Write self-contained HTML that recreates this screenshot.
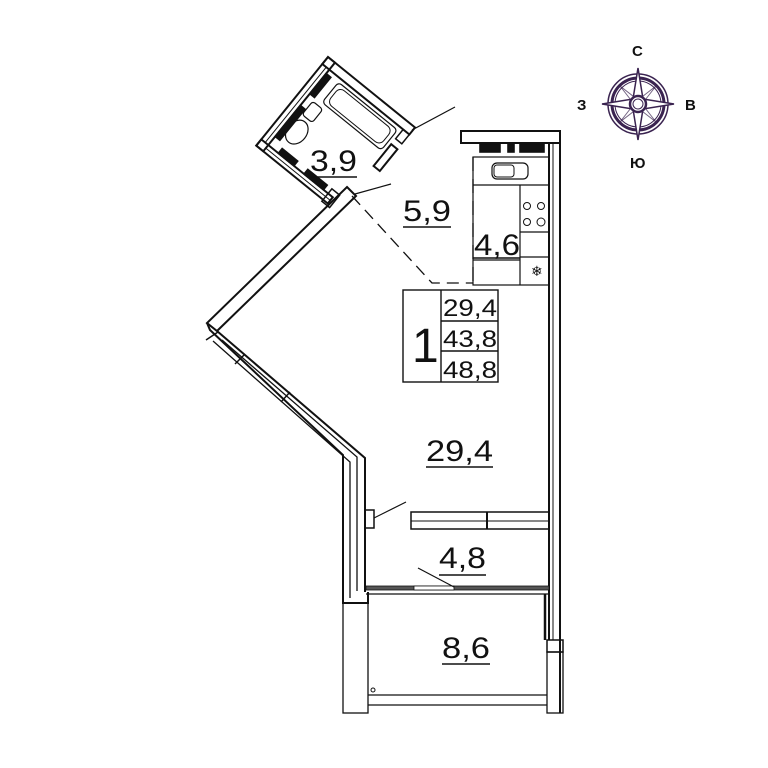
<!DOCTYPE html>
<html><head><style>html,body{margin:0;padding:0;background:#fff}svg{display:block}
text{font-family:"Liberation Sans",sans-serif;fill:#111}</style></head>
<body>
<svg width="768" height="768" viewBox="0 0 768 768" xmlns="http://www.w3.org/2000/svg">
<g fill="none" stroke="#111" stroke-width="1.6">
<!-- bathroom in local coords -->
<g transform="translate(328,57) rotate(39)">
<rect x="0" y="0" width="112" height="9" stroke-width="2"/>
<rect x="0" y="0" width="9" height="114" stroke-width="2"/>
<rect x="0" y="106" width="92" height="8" stroke-width="2"/>
<line x1="5" y1="9" x2="5" y2="106" stroke-width="1"/>
<line x1="9" y1="110" x2="92" y2="110" stroke-width="1"/>
<rect x="9" y="14" width="6" height="26" fill="#111"/>
<rect x="9" y="55" width="6" height="40" fill="#111"/>
<rect x="22" y="100" width="20" height="6" fill="#111"/>
<rect x="55" y="100" width="25" height="6" fill="#111"/>
<rect x="104" y="9" width="8" height="12" stroke-width="1.5"/>
<rect x="104" y="28" width="8" height="28" stroke-width="2"/>
<rect x="86" y="100" width="10" height="16" stroke-width="1.5"/>
<rect x="24" y="13" width="76" height="26" rx="4" stroke-width="1.2"/>
<rect x="28" y="16" width="68" height="20" rx="6" stroke-width="1"/>
<rect x="16" y="44" width="13" height="17" rx="3" stroke-width="1.2"/>
<ellipse cx="23" cy="78" rx="10" ry="13" stroke-width="1.2"/>
</g>
<!-- connector lines -->
<line x1="412" y1="130" x2="455" y2="107" stroke-width="1.2"/>
<line x1="355" y1="194" x2="391" y2="184" stroke-width="1.2"/>
<!-- upper diagonal wall -->
<polygon points="347,187 356,196 217,331 207,323" stroke-width="2"/>
<!-- lower diagonal wall -->
<polyline points="217,331 365,458 365,592" stroke-width="2"/>
<polyline points="207,323 210,330 343,455 343,603 368,603 368,592" stroke-width="2"/>
<polyline points="222,340 357,457 357,591" stroke-width="1.3"/>
<polyline points="213,341 350,462 350,598" stroke-width="1.3"/>
<line x1="218" y1="332" x2="206" y2="340" stroke-width="1.5"/>
<line x1="245" y1="354" x2="235" y2="364" stroke-width="1.5"/>
<line x1="290" y1="392" x2="281" y2="402" stroke-width="1.5"/>
<!-- dashed -->
<polyline points="352,196 432,283 473,283" stroke-dasharray="12,7" stroke-width="1.3"/>
<line x1="473" y1="157" x2="473" y2="285" stroke-dasharray="14,8" stroke-width="1.3"/>
<!-- top wall & right wall -->
<rect x="461" y="131" width="99" height="12" stroke-width="2"/>
<rect x="480" y="144" width="20" height="8" fill="#111"/><rect x="508" y="144" width="6" height="8" fill="#111"/><rect x="520" y="144" width="24" height="8" fill="#111"/>
<line x1="549" y1="143" x2="549" y2="640" stroke-width="2"/>
<line x1="560" y1="143" x2="560" y2="713" stroke-width="2"/>
<line x1="553" y1="143" x2="553" y2="640" stroke-width="1"/>
<rect x="547" y="640" width="16" height="12" stroke-width="1.5"/>
<!-- kitchen -->
<rect x="473" y="157" width="76" height="128" stroke-width="1.2"/>
<line x1="473" y1="185" x2="549" y2="185" stroke-width="1.2"/>
<line x1="473" y1="260" x2="520" y2="260" stroke-width="1.2"/>
<polyline points="520,185 520,285" stroke-width="1.2"/>
<line x1="520" y1="232" x2="549" y2="232" stroke-width="1.2"/>
<line x1="520" y1="257" x2="549" y2="257" stroke-width="1.2"/>
<rect x="492" y="163" width="36" height="16" rx="5" stroke-width="1.2"/>
<rect x="494" y="165" width="20" height="12" rx="3" stroke-width="1"/>
<circle cx="527" cy="206" r="3.5" stroke-width="1"/><circle cx="541" cy="206" r="3.5" stroke-width="1"/>
<circle cx="527" cy="222" r="3.5" stroke-width="1"/><circle cx="541" cy="222" r="4" stroke-width="1"/>
<!-- info box -->
<rect x="403" y="290" width="95" height="92" stroke-width="1.4"/>
<line x1="441" y1="290" x2="441" y2="382" stroke-width="1.4"/>
<line x1="441" y1="321" x2="498" y2="321" stroke-width="1.4"/>
<line x1="441" y1="351" x2="498" y2="351" stroke-width="1.4"/>
<!-- partition -->
<rect x="411" y="512" width="138" height="17" stroke-width="1.5"/>
<line x1="411" y1="521" x2="549" y2="521" stroke-width="1"/>
<line x1="487" y1="512" x2="487" y2="529" stroke-width="2"/>
<rect x="365" y="510" width="9" height="18" stroke-width="1.5"/>
<line x1="374" y1="518" x2="406" y2="502" stroke-width="1.2"/>
<!-- balcony -->
<rect x="366" y="586" width="183" height="4" fill="#555" stroke-width="0.8"/>
<rect x="414" y="586" width="40" height="4" fill="#fff" stroke-width="0.8"/>
<line x1="366" y1="594" x2="549" y2="594" stroke-width="1.3"/>
<line x1="418" y1="568" x2="454" y2="587" stroke-width="1.2"/>
<rect x="343" y="603" width="25" height="110" stroke-width="1.3"/>
<rect x="547" y="652" width="16" height="61" stroke-width="1.3"/>
<line x1="368" y1="695" x2="547" y2="695" stroke-width="1.3"/>
<line x1="368" y1="705" x2="547" y2="705" stroke-width="1.3"/>
<line x1="545" y1="594" x2="545" y2="640" stroke-width="2.5"/>
<circle cx="373" cy="690" r="2" stroke-width="1"/>
<!-- underlines -->
<line x1="310" y1="177" x2="357" y2="177"/>
<line x1="403" y1="227" x2="451" y2="227"/>
<line x1="473" y1="258" x2="520" y2="258"/>
<line x1="426" y1="467" x2="493" y2="467"/>
<line x1="439" y1="575" x2="486" y2="575"/>
<line x1="442" y1="664" x2="490" y2="664"/>
</g>
<text x="310" y="171" font-size="30" textLength="47" lengthAdjust="spacingAndGlyphs">3,9</text>
<text x="403" y="221" font-size="30" textLength="48" lengthAdjust="spacingAndGlyphs">5,9</text>
<text x="474" y="255" font-size="30" textLength="46" lengthAdjust="spacingAndGlyphs">4,6</text>
<text x="531" y="276" font-size="14">❄</text>
<text x="412" y="362" font-size="48">1</text>
<text x="443" y="316" font-size="24" textLength="54" lengthAdjust="spacingAndGlyphs">29,4</text>
<text x="443" y="347" font-size="24" textLength="54" lengthAdjust="spacingAndGlyphs">43,8</text>
<text x="443" y="378" font-size="24" textLength="54" lengthAdjust="spacingAndGlyphs">48,8</text>
<text x="426" y="461" font-size="30" textLength="67" lengthAdjust="spacingAndGlyphs">29,4</text>
<text x="439" y="568" font-size="30" textLength="47" lengthAdjust="spacingAndGlyphs">4,8</text>
<text x="442" y="658" font-size="30" textLength="48" lengthAdjust="spacingAndGlyphs">8,6</text>
<!-- compass -->
<g transform="translate(638,104)" fill="none" stroke="#3a2350">
<circle r="30" stroke-width="1.5"/><circle r="26" stroke-width="3"/><circle r="23" stroke-width="1"/>
<polygon points="0,-36 5,-5 36,0 5,5 0,36 -5,5 -36,0 -5,-5" fill="#fff" stroke-width="1.5"/>
<polygon points="18,-18 4,0 18,18 0,4 -18,18 -4,0 -18,-18 0,-4" fill="none" stroke-width="1" opacity="0.7"/>
<circle r="8" fill="#fff" stroke-width="2.5"/><circle r="5" fill="#fff" stroke-width="1"/>
</g>
<g font-size="15" font-weight="bold" fill="#111">
<text x="632" y="56">С</text><text x="577" y="110">З</text><text x="685" y="110">В</text><text x="630" y="168">Ю</text>
</g>
</svg>
</body></html>
